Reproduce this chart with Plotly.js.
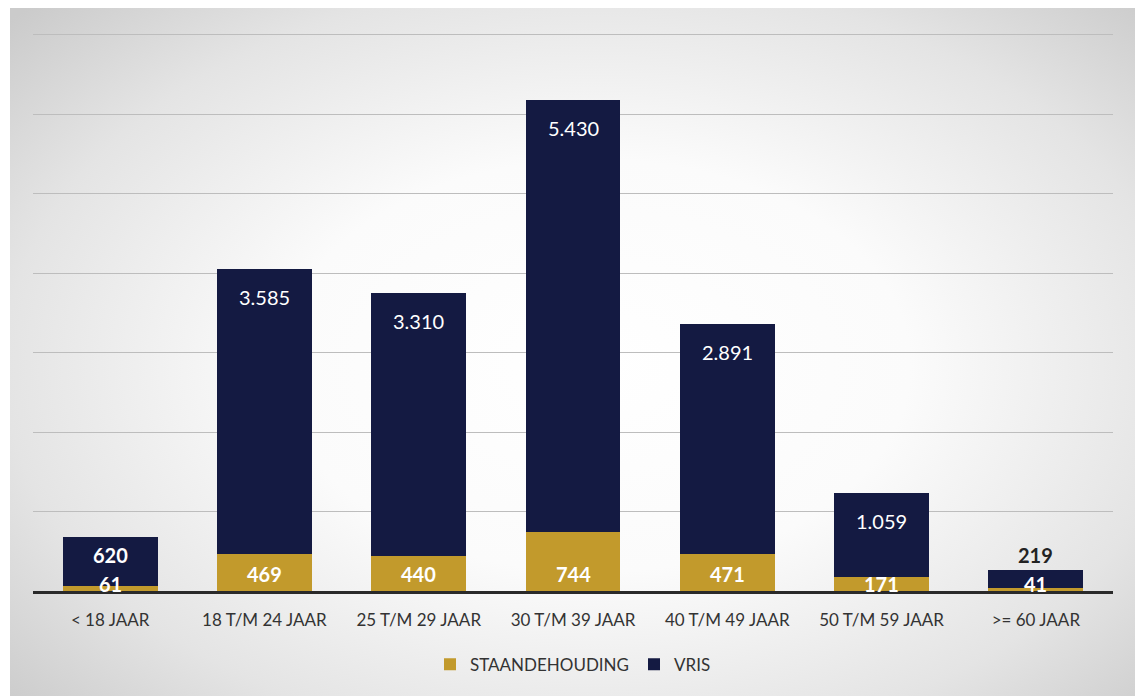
<!DOCTYPE html>
<html><head><meta charset="utf-8">
<script src="https://cdn.plot.ly/plotly-3.0.1.min.js"></script>
<style>
html,body{margin:0;padding:0;width:1135px;height:696px;overflow:hidden;background:#ffffff;position:relative;}
#bg{position:absolute;left:10px;top:8px;width:1125px;height:688px;
background:radial-gradient(ellipse 70% 75% at 52% 52%, #ffffff 0%, #fbfbfb 40%, #e4e4e4 75%, #cbcbcb 100%);}
#chart{position:absolute;left:0;top:0;width:1135px;height:696px;}
</style></head>
<body><div id="bg"></div><div id="chart"></div>
<script>
var categories = ['< 18 JAAR','18 T/M 24 JAAR','25 T/M 29 JAAR','30 T/M 39 JAAR','40 T/M 49 JAAR','50 T/M 59 JAAR','>= 60 JAAR'];
var staandehouding = [61, 469, 440, 744, 471, 171, 41];
var vris = [620, 3585, 3310, 5430, 2891, 1059, 219];

var GOLD = '#c29a2c', NAVY = '#141a42';
var FONT = 'Lato, "Open Sans", sans-serif';

function fmt(v){ return String(v).replace(/\B(?=(\d{3})+(?!\d))/g,'.'); }

var traces = [
  {type:'bar', name:'STAANDEHOUDING', x:categories, y:staandehouding, marker:{color:GOLD}, hoverinfo:'none'},
  {type:'bar', name:'VRIS', x:categories, y:vris, marker:{color:NAVY}, hoverinfo:'none'}
];

var yMax = 7020, plotH = 696 - 33 - 105;
var pxPerUnit = plotH / yMax;
var annotations = [];
categories.forEach(function(c,i){
  var g = staandehouding[i], v = vris[i];
  var gPx = g*pxPerUnit, vPx = v*pxPerUnit;
  annotations.push({x:c, y:0, text:'<b>'+fmt(g)+'</b>', showarrow:false, yanchor:'middle',
    yshift: gPx > 25 ? 17 : 7,
    font:{family:FONT, size:20, color:'#ffffff'}});
  var label = v < 1000 ? '<b>'+fmt(v)+'</b>' : fmt(v);
  if (vPx > 60) {
    annotations.push({x:c, y:g+v, text:label, showarrow:false, yanchor:'middle', yshift:-28,
      font:{family:FONT, size:20, color:'#ffffff'}});
  } else if (vPx > 30) {
    annotations.push({x:c, y:g+v, text:label, showarrow:false, yanchor:'middle', yshift:-18,
      font:{family:FONT, size:20, color:'#ffffff'}});
  } else {
    annotations.push({x:c, y:g+v, text:label, showarrow:false, yanchor:'middle', yshift:15,
      font:{family:FONT, size:20, color:'#222222'}});
  }
});

var layout = {
  width:1135, height:696,
  paper_bgcolor:'rgba(0,0,0,0)', plot_bgcolor:'rgba(0,0,0,0)',
  margin:{l:33, r:22, t:33, b:105},
  barmode:'stack', bargap:0.385,
  showlegend:true,
  legend:{orientation:'h', x:0.50, xanchor:'center', y:-0.10, yanchor:'top',
    font:{family:FONT, size:17, color:'#333333'}, itemwidth:30, traceorder:'normal'},
  xaxis:{type:'category', showgrid:false, showline:true, linecolor:'#2a2a2a', linewidth:3,
    ticks:'', tickfont:{family:FONT, size:17, color:'#333333'}, ticklabelstandoff:12, fixedrange:true},
  yaxis:{range:[0,yMax], dtick:1000, showgrid:true, gridcolor:'#bdbdbd', gridwidth:1,
    showticklabels:false, zeroline:false, fixedrange:true},
  separators:',.',
  annotations:annotations
};

Plotly.newPlot('chart', traces, layout, {displayModeBar:false, staticPlot:true});
</script>
</body></html>
